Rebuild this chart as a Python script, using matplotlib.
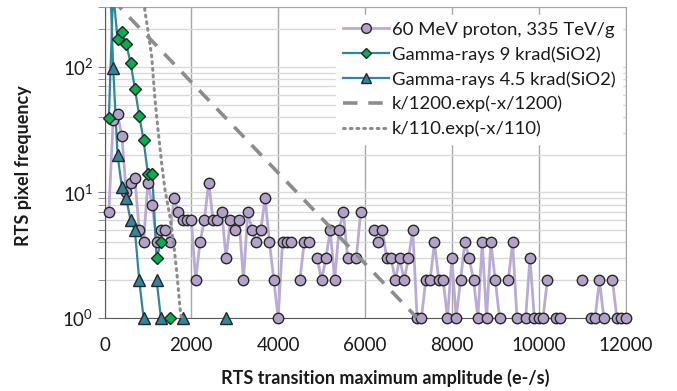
import numpy as np
import matplotlib
matplotlib.use("Agg")
import matplotlib.pyplot as plt
from matplotlib.lines import Line2D

plt.rcParams['font.family'] = ['Lato', 'DejaVu Sans']

#%% Data (bins of 100 e-/s, None = empty bin)

proton_x = np.arange(100, 12100, 100)
proton_y = [7, 38, 42, 28, 10, 12, 13, 5, 4, 12,            # 100..1000
            8, 4, 5, 5, 4, 9, 7, 6, 6, 6,                   # 1100..2000
            2, 4, 6, 12, 6, 6, 7, 3, 6, 5,                  # 2100..3000
            6, 2, 7, 5, 4, 5, 9, 4, 2, 1,                   # 3100..4000
            4, 4, 4, None, 2, 4, 4, None, 3, 2,             # 4100..5000
            3, 5, 2, 5, 7, 3, None, 3, 7, None,             # 5100..6000
            None, 5, 4, 5, 3, 3, 2, 3, 2, 3,                # 6100..7000
            5, 1, 1, 2, 2, 4, 2, 2, 1, 3,                   # 7100..8000
            1, 2, 4, 3, 2, 1, 4, 1, 4, 2,                   # 8100..9000
            1, None, 2, 4, 1, None, 1, 3, 1, 1,             # 9100..10000
            1, 2, None, 1, 1, None, None, None, None, 2,    # 10100..11000
            None, 1, 1, 2, 1, None, 2, 1, 1, 1]             # 11100..12000

gamma9_x = np.arange(100, 1600, 100)
gamma9_y = [39, 400, 166, 190, 152, 108, 67, 41, 26, 14, 14, 3, 4, None, 1]

gamma45_x = np.arange(100, 2900, 100)
gamma45_y = [1000, 98, 20, 11, 9, 6, 5, 2, 1, None,
             None, 2, 1, None, None, None, None, 1, None, None,
             None, None, None, None, None, None, None, 1]

# fit lines, end points / points
fit1200_x = [0, 7200]
fit1200_y = [400, 1]
fit110_x = [910, 933, 1009, 1087, 1163, 1239, 1317, 1393, 1509, 1601, 1677, 1739, 1770]
fit110_y = [330, 276, 186, 121, 55, 30, 17, 10.5, 6.4, 3.7, 2.1, 1.2, 1.0]

labels = ["60 MeV proton, 335 TeV/g", "Gamma-rays 9 krad(SiO2)",
          "Gamma-rays 4.5 krad(SiO2)", "k/1200.exp(-x/1200)", "k/110.exp(-x/110)"]

#%% Plot

def arr(v):
    return np.array([np.nan if a is None else a for a in v], dtype=float)

purple_line = "#b9abd4"
purple_face = "#b3a2c7"
teal = "#31859c"
green = "#00b050"
edge = "#262626"
grey = "#8c8c8c"

fig = plt.figure(figsize=(6.77, 3.91), dpi=100)
ax = fig.add_axes([104.5 / 677, 1 - 318 / 391, 521 / 677, 311 / 391])

ymax = 300
series = [
    (proton_x, arr(proton_y), purple_line, purple_face, "o", 7.5, 2.0),
    (gamma9_x, arr(gamma9_y), teal, green, "D", 6.0, 1.6),
    (gamma45_x, arr(gamma45_y), teal, teal, "^", 8.0, 1.6),
]
for i, (x, y, lc, fc, mk, ms, lw) in enumerate(series):
    ax.plot(x, y, color=lc, lw=lw, zorder=3 + i)
    ym = np.where(y <= ymax, y, np.nan)
    ax.plot(x, ym, ls="none", marker=mk, ms=ms, mfc=fc, mec=edge, mew=1.0,
            clip_on=False, zorder=6 + i)

ax.plot(fit1200_x, fit1200_y, color=grey, lw=2.6, dashes=(4, 3), zorder=9)
ax.plot(fit110_x, fit110_y, color=grey, lw=2.2, dashes=(0.6, 1.6),
        dash_capstyle="round", zorder=9)

ax.set_yscale("log")
ax.set_xlim(0, 12000)
ax.set_ylim(1, ymax)
ax.set_xticks(np.arange(0, 12001, 2000))

ax.grid(axis="x", which="major", color="#a6a6a6", lw=1.0, zorder=0)
ax.grid(axis="y", which="both", color="#d9d9d9", lw=1.0, zorder=0)
ax.set_axisbelow(True)

ax.tick_params(axis="x", length=0, pad=14, labelsize=13.5, labelcolor="#1a1a1a")
ax.tick_params(axis="y", which="both", direction="out", length=5,
               color="#808080", labelsize=13.5, labelcolor="#1a1a1a", pad=3)
ax.tick_params(axis="y", which="minor", length=5)

for s in ["left", "bottom"]:
    ax.spines[s].set_color("#595959")
for s in ["top", "right"]:
    ax.spines[s].set_color("#a6a6a6")

ax.set_xlabel("RTS transition maximum amplitude (e-/s)", fontsize=13,
              fontweight="bold", color="#1a1a1a")
ax.xaxis.set_label_coords(0.538, -0.165)
ax.set_ylabel("RTS pixel frequency", fontsize=13, fontweight="bold", color="#1a1a1a")
ax.yaxis.set_label_coords(-0.14, 0.49)

handles = [
    Line2D([], [], color=purple_line, lw=2.0, marker="o", ms=7, mfc=purple_face, mec=edge),
    Line2D([], [], color=teal, lw=1.6, marker="D", ms=5.5, mfc=green, mec=edge),
    Line2D([], [], color=teal, lw=1.6, marker="^", ms=7, mfc=teal, mec=edge),
    Line2D([], [], color=grey, lw=2.6, dashes=(4, 3)),
    Line2D([], [], color=grey, lw=2.2, dashes=(0.6, 1.6), dash_capstyle="round"),
]
leg = ax.legend(handles, labels, loc="upper right", bbox_to_anchor=(1.0, 0.985),
                fontsize=13.3, frameon=True, fancybox=False, framealpha=1,
                edgecolor="white", facecolor="white", handlelength=2.5,
                handletextpad=0.15, labelspacing=0.45, borderpad=0.35,
                borderaxespad=0.2)
leg.set_zorder(20)
for t in leg.get_texts():
    t.set_color("#1a1a1a")

fig.savefig("out.png", dpi=100)
